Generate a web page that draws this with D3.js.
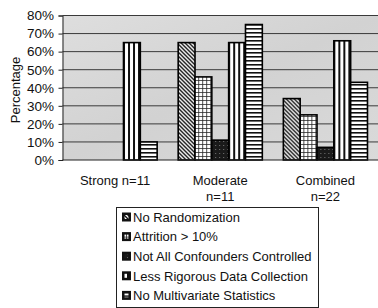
<!DOCTYPE html>
<html>
<head>
<meta charset="utf-8">
<script src="https://cdn.jsdelivr.net/npm/d3@7"></script>
<style>
  body { margin: 0; background: #fff; }
  text { font-family: "Liberation Sans", Arial, sans-serif; fill: #111; }
</style>
</head>
<body>
<div id="chart"></div>
<script>
const categories = ["Strong n=11", "Moderate n=11", "Combined n=22"];
const catLines = [["Strong n=11"], ["Moderate", "n=11"], ["Combined", "n=22"]];
const seriesNames = [
  "No Randomization",
  "Attrition > 10%",
  "Not All Confounders Controlled",
  "Less Rigorous Data Collection",
  "No Multivariate Statistics"
];
const noRandomization = [0, 65, 34];
const attrition = [0, 46, 25];
const confounders = [0, 11, 7];
const lessRigorous = [65, 65, 66];
const noMultivariate = [10, 75, 43];
const yTicks = [0, 10, 20, 30, 40, 50, 60, 70, 80];

const allSeries = [noRandomization, attrition, confounders, lessRigorous, noMultivariate];
const patternIds = ["pDiag", "pGrid", "pDark", "pVert", "pHoriz"];

let width = 378, height = 308;
let margin = { left: 62.5, right: 0, top: 15.5, bottom: 148 };

let svg = d3.select("#chart").append("svg")
  .attr("width", width).attr("height", height);

let defs = svg.append("defs");

// diagonal hatch
let p = defs.append("pattern").attr("id", "pDiag").attr("patternUnits", "userSpaceOnUse")
  .attr("width", 4).attr("height", 4);
p.append("rect").attr("width", 4).attr("height", 4).attr("fill", "#fff");
p.append("path").attr("d", "M0,0 L4,4 M-1,3 L1,5 M3,-1 L5,1")
  .attr("stroke", "#111").attr("stroke-width", 1.4);

// grid
p = defs.append("pattern").attr("id", "pGrid").attr("patternUnits", "userSpaceOnUse")
  .attr("width", 4).attr("height", 4);
p.append("rect").attr("width", 4).attr("height", 4).attr("fill", "#fff");
p.append("path").attr("d", "M0,0 H4 M0,0 V4").attr("stroke", "#222").attr("stroke-width", 1.6);

// dark
p = defs.append("pattern").attr("id", "pDark").attr("patternUnits", "userSpaceOnUse")
  .attr("width", 4).attr("height", 4);
p.append("rect").attr("width", 4).attr("height", 4).attr("fill", "#1a1a1a");
p.append("rect").attr("x", 1).attr("y", 1).attr("width", 1).attr("height", 1).attr("fill", "#777");

// vertical stripes
p = defs.append("pattern").attr("id", "pVert").attr("patternUnits", "userSpaceOnUse")
  .attr("width", 5).attr("height", 5);
p.append("rect").attr("width", 5).attr("height", 5).attr("fill", "#fff");
p.append("rect").attr("x", 0).attr("width", 2).attr("height", 5).attr("fill", "#111");

// horizontal stripes
p = defs.append("pattern").attr("id", "pHoriz").attr("patternUnits", "userSpaceOnUse")
  .attr("width", 4).attr("height", 4);
p.append("rect").attr("width", 4).attr("height", 4).attr("fill", "#fff");
p.append("rect").attr("y", 0).attr("width", 4).attr("height", 1.6).attr("fill", "#111");

let bg = defs.append("linearGradient").attr("id", "bgGrad")
  .attr("x1", 0).attr("y1", 0).attr("x2", 1).attr("y2", 1);
bg.append("stop").attr("offset", "0%").attr("stop-color", "#dedede");
bg.append("stop").attr("offset", "50%").attr("stop-color", "#d2d2d2");
bg.append("stop").attr("offset", "100%").attr("stop-color", "#dadada");

let x0 = d3.scaleBand().domain(categories)
  .range([margin.left, width - margin.right]).paddingInner(0.2).paddingOuter(0.1);
let x1 = d3.scaleBand().domain(d3.range(5)).range([0, x0.bandwidth()]);
let y = d3.scaleLinear().domain([0, 80]).range([height - margin.bottom, margin.top]);

// plot area
svg.append("rect")
  .attr("x", margin.left).attr("y", y(80))
  .attr("width", width - margin.right - margin.left).attr("height", y(0) - y(80))
  .attr("fill", "url(#bgGrad)");

svg.append("g").selectAll("line").data(yTicks.slice(1)).join("line")
  .attr("x1", margin.left).attr("x2", width)
  .attr("y1", d => y(d)).attr("y2", d => y(d))
  .attr("stroke", "#3a3a3a").attr("stroke-width", 1);

// bars
let groups = svg.append("g").selectAll("g").data(categories).join("g")
  .attr("transform", d => `translate(${x0(d)},0)`);

groups.selectAll("rect")
  .data((c, ci) => allSeries.map((s, si) => ({ si: si, v: s[ci] })).filter(d => d.v > 0))
  .join("rect")
  .attr("x", d => x1(d.si))
  .attr("width", x1.bandwidth())
  .attr("y", d => y(d.v))
  .attr("height", d => y(0) - y(d.v))
  .attr("fill", d => `url(#${patternIds[d.si]})`)
  .attr("stroke", "#000").attr("stroke-width", 1.6);

// y axis
let yAxis = svg.append("g")
  .attr("transform", `translate(${margin.left},0)`)
  .call(d3.axisLeft(y).tickValues(yTicks).tickFormat(d => d + "%").tickSize(4));
yAxis.select(".domain").attr("stroke", "#222");
yAxis.selectAll(".tick line").attr("stroke", "#222");
yAxis.selectAll("text").attr("font-size", "13.5px").attr("x", -8.5).attr("fill", "#111");

// x axis line
svg.append("line").attr("x1", margin.left).attr("x2", width)
  .attr("y1", y(0)).attr("y2", y(0)).attr("stroke", "#222");

// category labels
svg.append("g").selectAll("text").data(categories).join("text")
  .attr("x", d => x0(d) + x0.bandwidth() / 2)
  .attr("y", 185)
  .attr("text-anchor", "middle")
  .attr("font-size", "13px")
  .each(function (d, i) {
    d3.select(this).selectAll("tspan").data(catLines[i]).join("tspan")
      .attr("x", x0(d) + x0.bandwidth() / 2)
      .attr("dy", (t, j) => j === 0 ? 0 : 16)
      .text(t => t);
  });

// y label
svg.append("text")
  .attr("transform", `translate(19.5,90) rotate(-90)`)
  .attr("text-anchor", "middle")
  .attr("font-size", "13px")
  .text("Percentage");

// legend
let leg = svg.append("g");
leg.append("rect").attr("x", 116.5).attr("y", 207.5).attr("width", 202).attr("height", 100)
  .attr("fill", "#fff").attr("stroke", "#222").attr("stroke-width", 1);

let items = leg.selectAll("g").data(seriesNames).join("g")
  .attr("transform", (d, i) => `translate(122,${217 + i * 19.6})`);
items.append("rect").attr("x", 0).attr("y", -4.5).attr("width", 9).attr("height", 9)
  .attr("fill", "#111");
items.append("rect").attr("x", 2.5).attr("y", -2).attr("width", 4).attr("height", 4)
  .attr("fill", (d, i) => `url(#${patternIds[i]})`);
items.append("text").attr("x", 11).attr("y", 4.8).attr("font-size", "13px").text(d => d);
</script>
</body>
</html>
